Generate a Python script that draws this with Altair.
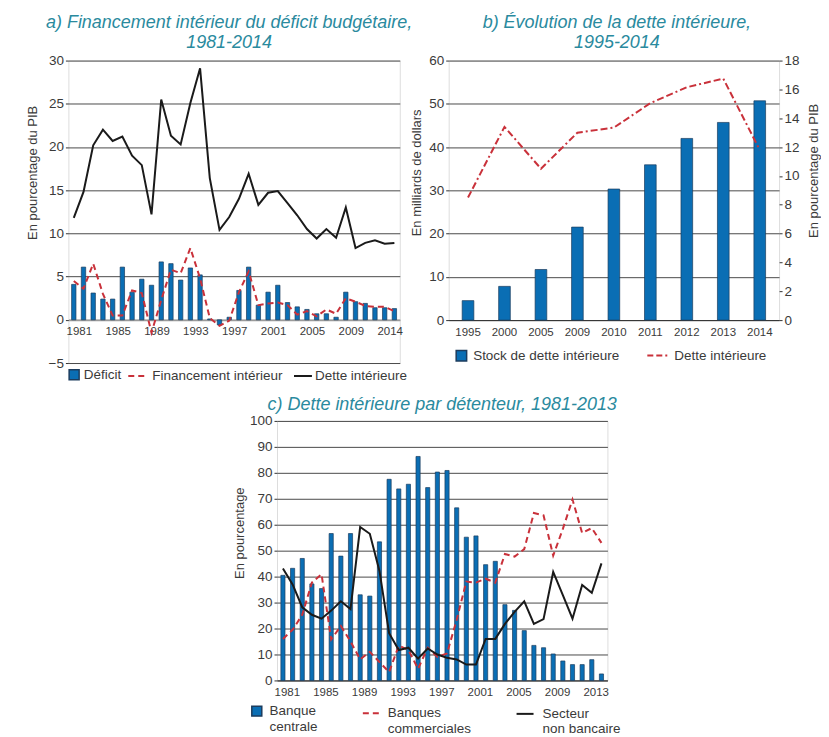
import altair as alt
import pandas as pd

# ---------------- data ----------------
years_a = list(range(1981, 2015))
deficit = [4.1, 6.1, 3.1, 2.4, 2.4, 6.1, 3.2, 4.7, 4.0, 6.7, 6.5, 4.6, 6.0, 5.2, 0.1, -0.6, 0.3,
           3.4, 6.1, 1.7, 3.2, 4.0, 2.0, 1.5, 1.2, 0.7, 0.7, 0.3, 3.2, 2.1, 1.9, 1.4, 1.4, 1.3]
financement = [4.5, 3.6, 6.5, 3.0, 0.5, 0.5, 3.4, 3.1, -1.5, 2.3, 5.8, 5.4, 8.3, 4.8, 0.2, -0.7, -0.1,
               3.2, 5.6, 1.7, 1.9, 2.0, 1.7, 0.6, 1.0, 0.4, 1.2, 0.7, 2.5, 2.1, 1.6, 1.5, 1.5, 1.0]
dette_a = [11.8, 14.8, 20.2, 22.0, 20.7, 21.2, 19.0, 17.9, 12.2, 25.5, 21.3, 20.3, 25.1, 29.1, 16.4, 10.4, 11.9,
           14.0, 16.9, 13.3, 14.7, 14.9, 13.5, 12.1, 10.5, 9.4, 10.5, 9.5, 13.0, 8.3, 8.9, 9.2, 8.8, 8.9]
labels_a = [1981, 1985, 1989, 1993, 1997, 2001, 2005, 2009, 2013]

years_b = ["1995", "2000", "2005", "2009", "2010", "2011", "2012", "2013", "2014"]
stock_b = [4.5, 7.8, 11.7, 21.5, 30.3, 35.9, 42.0, 45.7, 50.7]
dette_b = [8.5, 13.4, 10.5, 13.0, 13.35, 15.05, 16.15, 16.75, 11.8]

years_c = list(range(1981, 2015))
banque_centrale = [40.5, 43.2, 47.0, 37.2, 35.4, 56.6, 47.9, 56.6, 33.0, 32.5, 53.4, 77.5, 73.8, 75.6, 86.3, 74.3, 80.3,
                   80.9, 66.5, 55.2, 55.7, 44.6, 45.9, 29.2, 27.0, 19.2, 13.5, 12.6, 10.2, 7.5, 6.1, 6.1, 8.0, 2.5]
banques_commerciales = [16.0, 19.5, 25.3, 37.7, 40.9, 15.8, 21.0, 15.0, 8.1, 11.0, 7.1, 3.2, 13.4, 11.7, 4.5, 12.6, 9.1,
                        10.4, 23.4, 38.1, 37.7, 39.2, 37.7, 48.7, 47.7, 50.6, 64.5, 63.6, 48.1, 58.4, 69.7, 56.8, 58.7, 53.0]
secteur_non_bancaire = [43.1, 37.0, 28.2, 25.3, 23.8, 26.9, 30.5, 27.5, 59.1, 56.5, 42.2, 18.2, 11.7, 12.6, 8.4, 12.3, 10.0,
                        8.7, 8.1, 6.1, 6.1, 16.0, 16.0, 21.8, 26.4, 30.5, 21.8, 23.6, 41.8, 32.9, 23.8, 36.8, 33.8, 45.1]
labels_c = [1981, 1985, 1989, 1993, 1997, 2001, 2005, 2009, 2013]

# ---------------- style ----------------
FONT = "Liberation Sans"
TXT = "#3a3a3a"
TEAL = "#2a8a9e"
BLUE = "#0a6eb4"
BAR_STROKE = "#1c3c5e"
RED = "#c9313a"
BLACK = "#1a1a1a"
GRID = "#4a4a4a"
XLAB = 11.5
YLAB = 13.5
LEGF = 13.5


def long_df(years, series):
    rows = []
    for name, vals in series.items():
        for yv, v in zip(years, vals):
            rows.append({"annee": yv, "serie": name, "valeur": v})
    return pd.DataFrame(rows)


def leg(x, y, stype, size, dash=None, sw=None, offset=4, multiline=False):
    kw = dict(orient="none", legendX=x, legendY=y, title=None, symbolType=stype, symbolSize=size,
              labelFont=FONT, labelFontSize=LEGF, labelColor=TXT, labelOffset=offset, padding=0)
    if dash:
        kw["symbolDash"] = dash
    if sw:
        kw["symbolStrokeWidth"] = sw
    if multiline:
        kw["labelExpr"] = "split(datum.label, '|')"
    return alt.Legend(**kw)


def title(text, offset, dx=0):
    return alt.TitleParams(text, font=FONT, fontSize=18, fontStyle="italic", fontWeight="normal",
                           color=TEAL, anchor="middle", offset=offset, lineHeight=20, dx=dx)


def yaxis(vals, ttl, titleX, titleY=112, grid=True, orient="left", gridColor=GRID, gridWidth=1):
    return alt.Axis(values=vals, title=ttl, grid=grid, gridColor=gridColor, gridWidth=gridWidth, domain=False,
                    tickSize=3, tickColor="#333", labelPadding=2, labelFont=FONT, labelFontSize=YLAB,
                    labelColor=TXT, titleFont=FONT, titleFontSize=13, titleColor=TXT, titleFontWeight="normal",
                    titleX=titleX, titleY=titleY, titleAngle=270, titleBaseline="middle", titleAlign="center",
                    orient=orient)


# ---------------- panel a ----------------
df_a = long_df(years_a, {"Déficit": deficit, "Financement intérieur": financement, "Dette intérieure": dette_a})
H_A = 303
x_a = alt.X("annee:O", title=None, scale=alt.Scale(paddingInner=0.55, paddingOuter=0.33),
            axis=alt.Axis(values=labels_a, labelExpr="datum.value == 2013 ? '2014' : datum.label",
                          labelAngle=0, ticks=False, offset=-H_A * 5 / 35, domainColor="#9a9a9a", domainWidth=1.5,
                          labelPadding=6, labelOffset=5.5, grid=False, labelFont=FONT, labelFontSize=XLAB,
                          labelColor=TXT))
y_a = alt.Y("valeur:Q", scale=alt.Scale(domain=[-5, 30], nice=False),
            axis=yaxis(list(range(-5, 31, 5)), "En pourcentage du PIB", -36,
                       gridColor=alt.condition("datum.value === 0", alt.value("#9a9a9a"), alt.value(GRID)),
                       gridWidth=alt.condition("datum.value === 0", alt.value(1.5), alt.value(1))))

base_a = alt.Chart(df_a)
bars_a = base_a.transform_filter(alt.datum.serie == "Déficit").mark_bar(stroke=BAR_STROKE, strokeWidth=0.7).encode(
    x=x_a, y=y_a,
    color=alt.Color("serie:N", scale=alt.Scale(range=[BLUE]), legend=leg(-1, 308, "square", 100, offset=3)))
fin_a = base_a.transform_filter(alt.datum.serie == "Financement intérieur").mark_line(
    strokeDash=[6, 4], strokeWidth=2).encode(
    x=x_a, y=y_a,
    color=alt.Color("serie:N", scale=alt.Scale(range=[RED]), legend=leg(59, 307, "stroke", 256, dash=[6, 4], sw=2, offset=7)))
det_a = base_a.transform_filter(alt.datum.serie == "Dette intérieure").mark_line(strokeWidth=2).encode(
    x=x_a, y=y_a,
    color=alt.Color("serie:N", scale=alt.Scale(range=[BLACK]), legend=leg(225, 306, "stroke", 324, sw=2, offset=2)))
panel_a = alt.layer(bars_a, fin_a, det_a).resolve_scale(color="independent").properties(
    width=332, height=H_A, title=title(["a) Financement intérieur du déficit budgétaire,", "1981-2014"], 2, -5))

# ---------------- panel b ----------------
df_b = pd.DataFrame({"annee": years_b, "stock": stock_b, "dette": dette_b,
                     "s1": "Stock de dette intérieure", "s2": "Dette intérieure"})
x_b = alt.X("annee:O", title=None, scale=alt.Scale(paddingInner=0.68, paddingOuter=0.37),
            axis=alt.Axis(labelAngle=0, ticks=False, domainColor="#333", labelPadding=6, labelFont=FONT,
                          labelFontSize=XLAB, labelColor=TXT))
base_b = alt.Chart(df_b)
bars_b = base_b.mark_bar(stroke=BAR_STROKE, strokeWidth=0.7).encode(
    x=x_b,
    y=alt.Y("stock:Q", scale=alt.Scale(domain=[0, 60], nice=False),
            axis=yaxis(list(range(0, 61, 10)), "En milliards de dollars", -32)),
    color=alt.Color("s1:N", scale=alt.Scale(range=[BLUE]), legend=leg(6, 289, "square", 110, offset=5)))
line_b = base_b.mark_line(strokeDash=[7, 3, 7, 3, 2, 3], strokeWidth=2).encode(
    x=x_b,
    y=alt.Y("dette:Q", scale=alt.Scale(domain=[0, 18], nice=False),
            axis=yaxis(list(range(0, 19, 2)), "En pourcentage du PIB", 34, titleY=110, grid=False,
                       orient="right")),
    color=alt.Color("s2:N", scale=alt.Scale(range=[RED]),
                    legend=leg(198, 283, "stroke", 529, dash=[6, 3, 6, 3, 2, 3], sw=2, offset=3)))
panel_b = alt.layer(bars_b, line_b).resolve_scale(y="independent", color="independent").properties(
    width=331, height=260, title=title(["b) Évolution de la dette intérieure,", "1995-2014"], 2, 3))

# ---------------- panel c ----------------
df_c = long_df(years_c, {"Banque|centrale": banque_centrale,
                         "Banques|commerciales": banques_commerciales,
                         "Secteur|non bancaire": secteur_non_bancaire})
x_c = alt.X("annee:O", title=None, scale=alt.Scale(paddingInner=0.57, paddingOuter=0.4),
            axis=alt.Axis(values=labels_c, labelAngle=0, ticks=False, domainColor="#333", labelPadding=6,
                          labelOffset=4.4, labelFont=FONT, labelFontSize=XLAB, labelColor=TXT))
y_c = alt.Y("valeur:Q", scale=alt.Scale(domain=[0, 100], nice=False),
            axis=yaxis(list(range(0, 101, 10)), "En pourcentage", -37.3))
base_c = alt.Chart(df_c)
bars_c = base_c.transform_filter(alt.datum.serie == "Banque|centrale").mark_bar(
    stroke=BAR_STROKE, strokeWidth=0.7).encode(
    x=x_c, y=y_c,
    color=alt.Color("serie:N", scale=alt.Scale(range=[BLUE]), legend=leg(-27, 284, "square", 100, offset=6, multiline=True)))
com_c = base_c.transform_filter(alt.datum.serie == "Banques|commerciales").mark_line(
    strokeDash=[6, 4], strokeWidth=2).encode(
    x=x_c, y=y_c,
    color=alt.Color("serie:N", scale=alt.Scale(range=[RED]),
                    legend=leg(85, 284, "stroke", 256, dash=[6, 4], sw=2, offset=8, multiline=True)))
snb_c = base_c.transform_filter(alt.datum.serie == "Secteur|non bancaire").mark_line(strokeWidth=2).encode(
    x=x_c, y=y_c,
    color=alt.Color("serie:N", scale=alt.Scale(range=[BLACK]),
                    legend=leg(239, 284, "stroke", 289, sw=2, offset=8, multiline=True)))
panel_c = alt.layer(bars_c, com_c, snb_c).resolve_scale(color="independent").properties(
    width=331, height=260, title=title("c) Dette intérieure par détenteur, 1981-2013", 0))

# empty layout spacer (no data marks) used to place panel c horizontally
spacer = alt.Chart(pd.DataFrame({"v": [0]})).mark_point(opacity=0).encode(
    x=alt.X("v:Q", axis=None), y=alt.Y("v:Q", axis=None)
).properties(width=164, height=1, view=alt.ViewBackground(stroke="transparent"))

top = alt.hconcat(panel_a, panel_b, spacing=49, bounds="flush").resolve_scale(color="independent")
bottom = alt.hconcat(spacer, panel_c, spacing=0).resolve_scale(color="independent")
chart = alt.vconcat(top, bottom, spacing=11).resolve_scale(color="independent").properties(
    padding={"left": 17.5, "top": 4, "right": 0, "bottom": 0}
).configure_view(stroke="#333", strokeWidth=1).configure(background="white")

chart.save("out.html", embed_options={"renderer": "svg", "actions": False})
